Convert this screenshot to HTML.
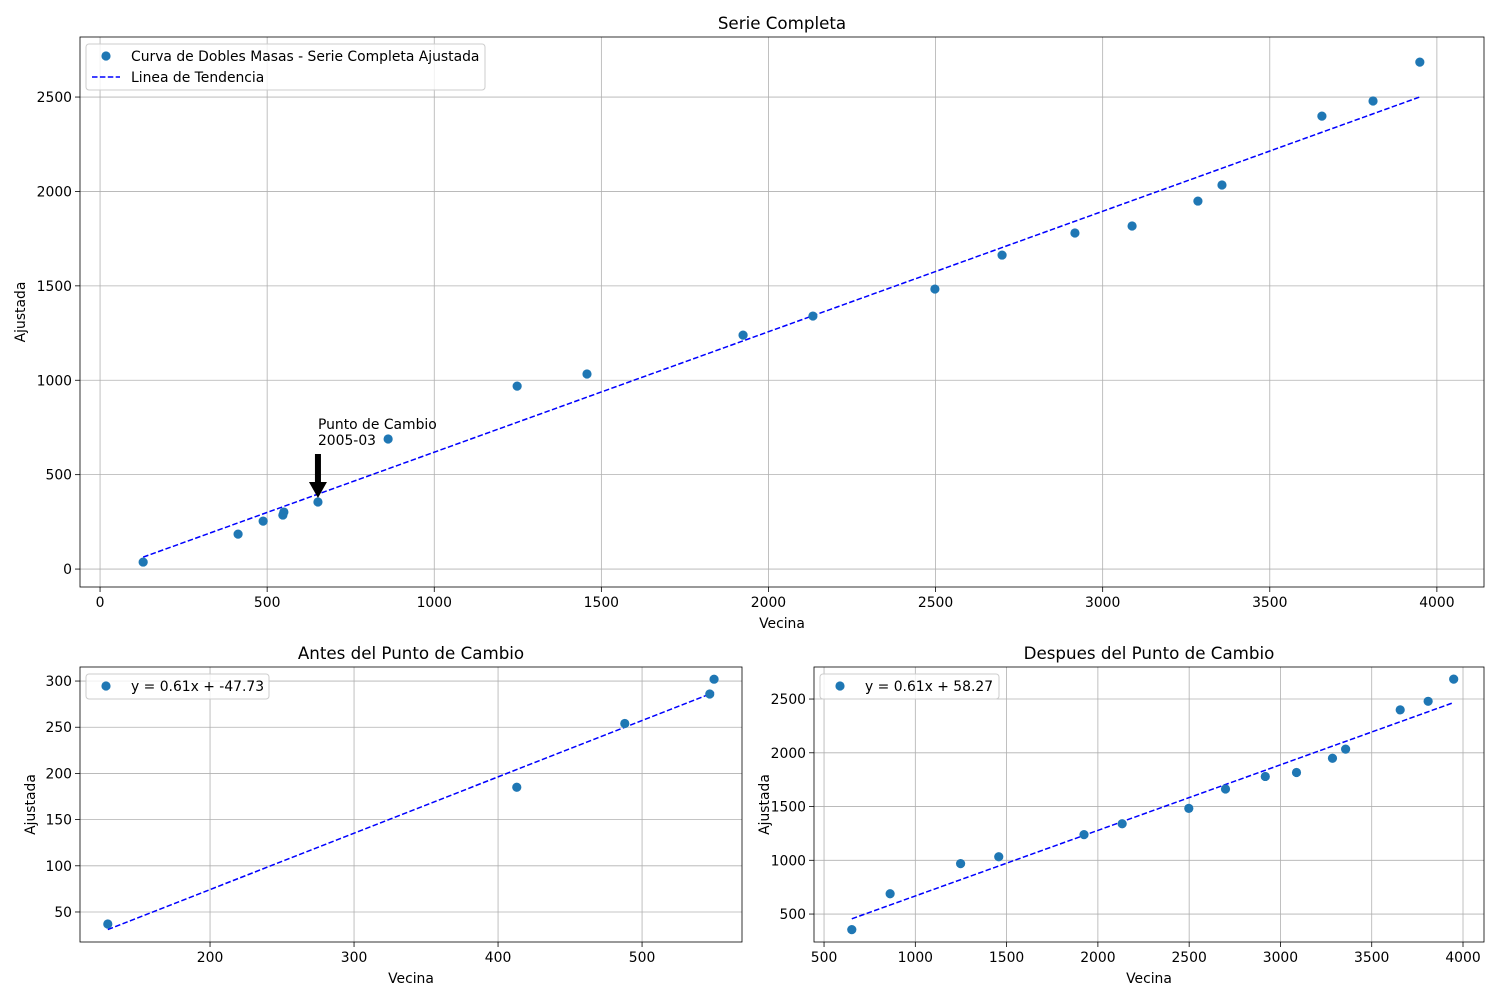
<!DOCTYPE html>
<html><head><meta charset="utf-8">
<style>
html,body{margin:0;padding:0;background:#fff;}
svg{display:block;font-family:"DejaVu Sans","Liberation Sans",sans-serif;}
</style></head>
<body>
<svg id="chart" width="1500" height="1000" viewBox="0 0 1500 1000" xmlns="http://www.w3.org/2000/svg"></svg>
<script>
// ---- data ----
const vecina = [129,413,488,547,550,652,862,1248,1457,1924,2133,2498,2699,2917,3088,3285,3357,3656,3809,3949];
const ajustada = [37,185,254,286,302,355,689,969,1033,1239,1340,1483,1663,1780,1817,1949,2034,2399,2479,2685];
const changeIndex = 5;
const changeLabel = ["Punto de Cambio","2005-03"];
const fullTrend = [0.638,-19];
const beforeTrend = [0.61,-47.73];
const afterTrend = [0.61,58.27];
const topXTicks = [0,500,1000,1500,2000,2500,3000,3500,4000];
const topYTicks = [0,500,1000,1500,2000,2500];
const blXTicks = [200,300,400,500];
const blYTicks = [50,100,150,200,250,300];
const brXTicks = [500,1000,1500,2000,2500,3000,3500,4000];
const brYTicks = [500,1000,1500,2000,2500];

const NS="http://www.w3.org/2000/svg";
const svgEl=document.getElementById('chart');
const FS=13.9;
function mk(tag,attrs,parent){const e=document.createElementNS(NS,tag);for(const k in attrs)e.setAttribute(k,attrs[k]);(parent||svgEl).appendChild(e);return e;}
function txt(s,attrs,parent){const e=mk('text',attrs,parent);e.textContent=s;return e;}

function panel(name,box,xr,yr,xt,yt,title,xs,ys,trend,legendText,legendW,showTrendLegend){
  const g=mk('g',{});
  
  
  const X=v=>box.l+(v-xr[0])/(xr[1]-xr[0])*(box.r-box.l);
  const Y=v=>box.b-(v-yr[0])/(yr[1]-yr[0])*(box.b-box.t);
  xt.forEach(v=>{const l=mk('line',{x1:X(v),x2:X(v),y1:box.t,y2:box.b,stroke:'#b0b0b0','stroke-width':0.8},g);
    
    
    mk('line',{x1:X(v),x2:X(v),y1:box.b,y2:box.b+5,stroke:'#000','stroke-width':0.8},g);
    const t=txt(String(v),{x:X(v),y:box.b+20,'font-size':FS,'text-anchor':'middle'},g);
    
    });
  yt.forEach(v=>{const l=mk('line',{x1:box.l,x2:box.r,y1:Y(v),y2:Y(v),stroke:'#b0b0b0','stroke-width':0.8},g);
    
    
    mk('line',{x1:box.l-5,x2:box.l,y1:Y(v),y2:Y(v),stroke:'#000','stroke-width':0.8},g);
    const t=txt(String(v),{x:box.l-8,y:Y(v)+5,'font-size':FS,'text-anchor':'end'},g);
    
    });
  const x0=Math.min(...xs),x1=Math.max(...xs);
  const tl=mk('line',{x1:X(x0),y1:Y(trend[0]*x0+trend[1]),x2:X(x1),y2:Y(trend[0]*x1+trend[1]),stroke:'#0000ff','stroke-width':1.5,'stroke-dasharray':'5.5,2.4'},g);
  
  
  xs.forEach((v,i)=>{const c=mk('circle',{cx:X(v),cy:Y(ys[i]),r:4.6,fill:'#1f77b4'},g);
    
    });
  const f=mk('rect',{x:box.l,y:box.t,width:box.r-box.l,height:box.b-box.t,fill:'none',stroke:'#000','stroke-width':0.8},g);
  
  
  const tt=txt(title,{x:(box.l+box.r)/2,y:box.t-8,'font-size':16.7,'text-anchor':'middle'},g);
  
  
  const xl=txt('Vecina',{x:(box.l+box.r)/2,y:box.b+41,'font-size':FS,'text-anchor':'middle'},g);
  
  
  const yx=box.l-(name==='top-panel'?55:45);const yy=(box.t+box.b)/2;
  const yl=txt('Ajustada',{x:yx,y:yy,'font-size':FS,'text-anchor':'middle',transform:`rotate(-90 ${yx} ${yy})`},g);
  
  
  const lg=mk('g',{},g);
  
  
  const lh=showTrendLegend?46:25;
  mk('rect',{x:box.l+6,y:box.t+7,width:legendW,height:lh,rx:3,fill:'#fff','fill-opacity':0.8,stroke:'#ccc'},lg);
  mk('circle',{cx:box.l+26,cy:box.t+19,r:4.6,fill:'#1f77b4'},lg);
  txt(legendText,{x:box.l+51,y:box.t+24,'font-size':FS},lg);
  if(showTrendLegend){
    mk('line',{x1:box.l+12,x2:box.l+40,y1:box.t+40,y2:box.t+40,stroke:'#0000ff','stroke-width':1.5,'stroke-dasharray':'5.5,2.4'},lg);
    txt('Linea de Tendencia',{x:box.l+51,y:box.t+45,'font-size':FS},lg);
  }
  return {X,Y,g};
}

const topPanel=panel('top-panel',{l:80,r:1484,t:37,b:587},[-60,4141],[-95,2818],topXTicks,topYTicks,'Serie Completa',vecina,ajustada,fullTrend,'Curva de Dobles Masas - Serie Completa Ajustada',399,true);
panel('before-panel',{l:80,r:742,t:667,b:942},[109.7,569.4],[17.5,315.2],blXTicks,blYTicks,'Antes del Punto de Cambio',vecina.slice(0,changeIndex),ajustada.slice(0,changeIndex),beforeTrend,'y = 0.61x + -47.73',183,false);
panel('after-panel',{l:814,r:1484,t:667,b:942},[445,4115],[240,2798],brXTicks,brYTicks,'Despues del Punto de Cambio',vecina.slice(changeIndex),ajustada.slice(changeIndex),afterTrend,'y = 0.61x + 58.27',179,false);

const ax=topPanel.X(vecina[changeIndex]), ay=topPanel.Y(ajustada[changeIndex]);
const ann=mk('g',{});


mk('polygon',{points:`${ax-3},${ay-48} ${ax+3},${ay-48} ${ax+3},${ay-20} ${ax+9},${ay-20} ${ax},${ay-4} ${ax-9},${ay-20} ${ax-3},${ay-20}`,fill:'#000'},ann);
txt(changeLabel[0],{x:ax,y:ay-73,'font-size':FS},ann);
txt(changeLabel[1],{x:ax,y:ay-57,'font-size':FS},ann);
</script>
</body></html>
